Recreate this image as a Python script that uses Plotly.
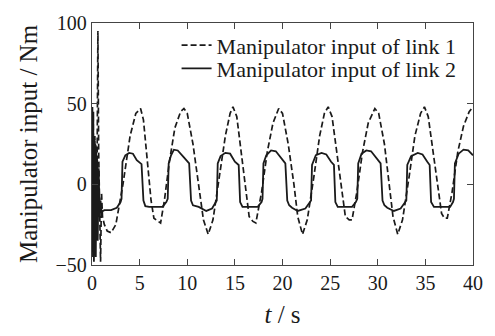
import plotly.graph_objects as go

# Link 1 (dashed) - time and values
t1 = [0.0, 0.05, 0.1, 0.15, 0.2, 0.3, 0.35, 0.4, 0.5, 0.55, 0.62, 0.7, 0.8, 0.9, 1.0, 1.1, 1.3,
      1.6, 2.0, 2.5, 3.25, 4.0, 4.6, 5.1, 5.4, 5.8, 6.2, 6.5, 6.9, 7.2, 7.6, 8.1, 8.7, 9.3, 9.65,
      10.0, 10.6, 11.2, 11.7, 12.2, 12.7, 13.4, 14.0, 14.5, 14.8, 15.2, 15.8, 16.2, 16.5, 16.9, 17.2,
      17.8, 18.4, 19.0, 19.6, 20.0, 20.6, 21.2, 21.6, 22.1, 22.6, 23.3, 23.9, 24.4, 24.8, 25.2, 25.8,
      26.3, 26.6, 27.0, 27.3, 27.8, 28.4, 29.0, 29.7, 30.1, 30.7, 31.2, 31.6, 32.1, 32.6, 33.3, 33.9,
      34.5, 34.9, 35.3, 35.9, 36.4, 36.7, 37.0, 37.3, 37.8, 38.4, 39.0, 39.6, 40.0]
v1 = [0, 48, -40, 45, -45, 30, -30, 25, -20, 10, 95, 20, -10, -48, -5, -20, -25,
      -29, -30, -25, 0, 30, 44, 47, 40, 13, -10, -21, -23, -24, -10, 13, 35, 45, 47,
      44, 25, 0, -22, -31, -22, 6, 30, 44, 48, 42, 15, -5, -20, -23, -24,
      -5, 20, 38, 47, 44, 25, 0, -20, -31, -22, 5, 30, 44, 48, 42, 15,
      -5, -20, -22, -22, -5, 20, 38, 47, 44, 25, 0, -20, -31, -22, 5, 30,
      44, 48, 42, 15, -5, -18, -21, -21, -5, 20, 36, 45, 48]

# Link 2 (solid) - time and values
t2 = [0.0, 0.05, 0.1, 0.15, 0.2, 0.25, 0.3, 0.35, 0.4, 0.45, 0.5, 0.55, 0.6, 0.7, 0.8, 0.9, 1.0,
      1.3, 2.0, 2.6, 3.0, 3.1, 3.2, 3.5, 3.9, 4.3, 4.7, 5.2, 5.4, 5.6, 6.0, 7.4, 7.8, 7.95, 8.05,
      8.3, 8.6, 9.0, 9.6, 10.2, 10.4, 10.6, 11.2, 12.0, 12.6, 13.1, 13.2, 13.5, 14.0, 14.5, 15.0,
      15.4, 15.55, 15.8, 17.4, 17.8, 17.9, 18.0, 18.3, 18.8, 19.3, 19.9, 20.3, 20.5, 20.7, 21.0,
      21.6, 22.4, 23.0, 23.1, 23.5, 24.1, 24.6, 25.1, 25.4, 25.55, 25.8, 27.3, 27.7, 27.85, 27.95,
      28.3, 28.8, 29.3, 29.9, 30.3, 30.5, 30.7, 31.0, 31.7, 32.4, 33.0, 33.1, 33.5, 34.2, 34.7,
      35.2, 35.45, 35.6, 35.9, 37.6, 37.9, 38.0, 38.1, 38.5, 39.0, 39.5, 40.0]
v2 = [0, 25, -45, 30, -48, 28, -40, 25, -45, 20, -30, 15, -35, 10, -20, -10, -17,
      -16, -16, -14.5, -11, -9, 14, 18, 19.5, 19, 15, 12.5, -10, -13.5, -14, -14, -11, -9, 13,
      18, 21.5, 21, 17, 13, -10, -13, -14, -16.5, -15, -10, 13, 17.5, 19.5, 19, 14,
      12, -11, -14, -14, -11, -9, 13, 18, 21, 20.5, 16, 13, -10, -13, -14.5,
      -16.5, -15, -10, 12, 18, 19.5, 18.5, 14, 12, -11, -14, -14, -11, -9, 13,
      19, 21, 20.5, 16, 13, -10, -13, -14.5, -16.5, -15, -10, 12, 17.5, 19.5, 18.5,
      14, 12, -11, -14, -14, -11, -9, 13, 19, 21.5, 21, 18]

names = ["Manipulator input of link 1", "Manipulator input of link 2"]
x_ticks = [0, 5, 10, 15, 20, 25, 30, 35, 40]
y_ticks = [-50, 0, 50, 100]
y_ticktext = ["\u221250", "0", "50", "100"]

font_family = "Liberation Serif"
ink = "#1a1a1a"

fig = go.Figure()
fig.add_trace(go.Scatter(x=t1, y=v1, mode="lines", name=names[0], legend="legend",
                         line=dict(color=ink, width=1.7, dash="6px,3px")))
fig.add_trace(go.Scatter(x=t2, y=v2, mode="lines", name=names[1], legend="legend2",
                         line=dict(color=ink, width=1.8)))

axis_common = dict(showline=True, linecolor="#444", linewidth=1.4, mirror="ticks",
                   ticks="inside", ticklen=6, tickcolor="#444", tickwidth=1.4,
                   showgrid=False, zeroline=False,
                   tickfont=dict(family=font_family, size=20, color=ink))

legend_common = dict(xanchor="left", yanchor="middle", bgcolor="rgba(0,0,0,0)",
                     borderwidth=0, font=dict(family=font_family, size=22, color=ink),
                     itemwidth=30)

fig.update_layout(
    width=495, height=336,
    margin=dict(l=92, r=17, t=16, b=69),
    paper_bgcolor="white", plot_bgcolor="white",
    font=dict(family=font_family, color=ink),
    showlegend=True,
    legend=dict(x=0.222, y=0.908, **legend_common),
    legend2=dict(x=0.222, y=0.812, **legend_common),
    xaxis=dict(range=[0, 40], tickvals=x_ticks,
               title=dict(text="<i>t</i> / s", font=dict(family=font_family, size=25), standoff=12),
               **axis_common),
    yaxis=dict(range=[-50, 100], tickvals=y_ticks, ticktext=y_ticktext,
               title=dict(text="Manipulator input / Nm", font=dict(family=font_family, size=25), standoff=10),
               **axis_common),
)

fig.write_html("out.html")
